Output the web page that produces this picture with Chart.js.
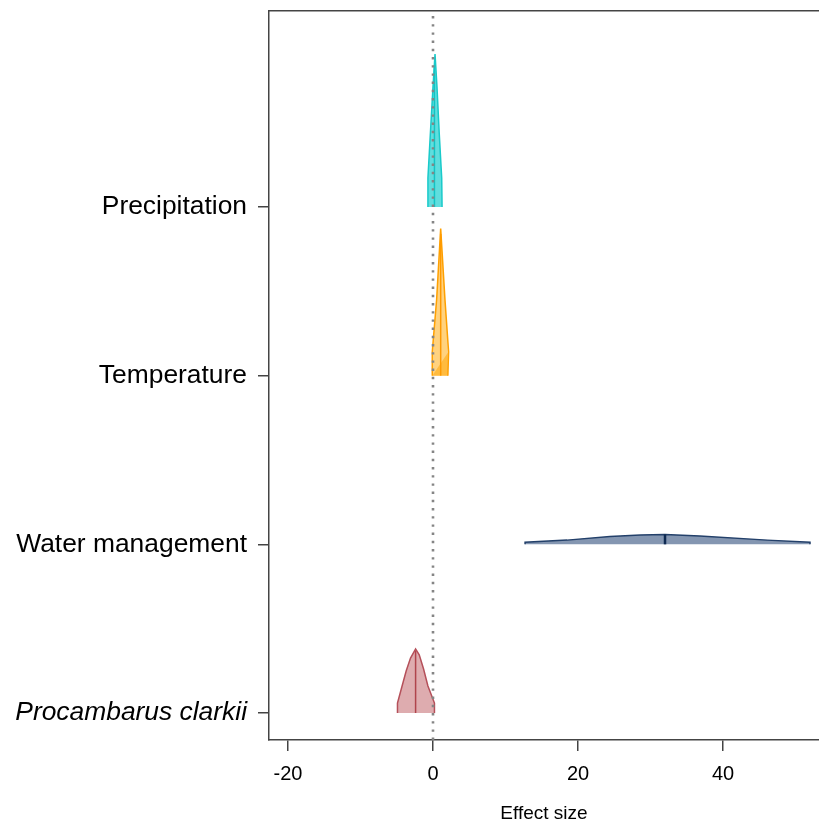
<!DOCTYPE html>
<html>
<head>
<meta charset="utf-8">
<script src="https://cdn.jsdelivr.net/npm/chart.js@4.4.1/dist/chart.umd.min.js"></script>
<style>
  html, body { margin: 0; padding: 0; background: #fff; overflow: hidden; }
  #wrap { width: 819px; height: 820px; }
</style>
</head>
<body>
<div id="wrap"><canvas id="c" width="819" height="820"></canvas></div>
<script>
// ---- data ----
const categories = ["Procambarus clarkii", "Water management", "Temperature", "Precipitation"];
const categoryPos = [1, 2, 3, 4];
const xTicks = [-20, 0, 20, 40];

// ridge outlines: effect size (x) and scaled density height (in row units)
const clarkiiX       = [-4.9, -4.9, -4.3, -3.7, -3.1, -2.4, -1.9, -1.3, -0.7, 0.2, 0.2];
const clarkiiDensity = [0, 0.059, 0.154, 0.249, 0.326, 0.380, 0.345, 0.261, 0.160, 0.059, 0];
const clarkiiMedian  = -2.4, clarkiiMedianDensity = 0.37;

const waterX       = [12.7, 12.7, 18.5, 24.4, 28.6, 32.0, 36.8, 46.1, 52.0, 52.0];
const waterDensity = [0, 0.012, 0.025, 0.047, 0.055, 0.059, 0.049, 0.025, 0.012, 0];
const waterMedian  = 32.0, waterMedianDensity = 0.059;

const tempX       = [-0.1, -0.1, 0.5, 1.06, 1.65, 2.15, 2.05];
const tempDensity = [0, 0.142, 0.451, 0.872, 0.451, 0.142, 0];
const tempMedian  = 1.06, tempMedianDensity = 0.84;

const precipX       = [-0.7, -0.7, -0.35, 0.0, 0.28, 0.55, 0.85, 1.2, 1.25];
const precipDensity = [0, 0.172, 0.445, 0.711, 0.907, 0.711, 0.445, 0.172, 0];
const precipMedian  = 0.2, precipMedianDensity = 0.84;

// ---- styling ----
const FONT = "'Liberation Sans', Arial, sans-serif";
const AXIS = '#444444';

function ridge(xs, ds, base, line, fill) {
  return {
    type: 'line',
    data: xs.map((x, i) => ({ x: x, y: base + ds[i] })),
    borderColor: line, backgroundColor: fill, borderWidth: 1.5,
    fill: { value: base }, pointRadius: 0, tension: 0
  };
}
function median(x, d, base, color, w) {
  return {
    type: 'line',
    data: [{ x: x, y: base }, { x: x, y: base + d }],
    borderColor: color, borderWidth: w, pointRadius: 0, fill: false
  };
}

const X_MIN = -22.62, X_MAX = 53.24, Y_MIN = 0.84, Y_MAX = 5.162;

const datasets = [
  { type: 'line', data: [{ x: 0, y: Y_MIN }, { x: 0, y: Y_MAX }],
    borderColor: '#858585', borderWidth: 2.6, borderDash: [2.4, 5.8], pointRadius: 0, fill: false },
  median(precipMedian, precipMedianDensity, categoryPos[3], '#12C4C4', 1.5),
  ridge(precipX, precipDensity, categoryPos[3], '#19CACA', 'rgba(10,205,205,0.65)'),
  median(tempMedian, tempMedianDensity, categoryPos[2], '#FF9A00', 1.5),
  ridge(tempX, tempDensity, categoryPos[2], '#FFA000', 'rgba(255,165,0,0.5)'),
  median(waterMedian, waterMedianDensity, categoryPos[1], '#0E2A52', 2.5),
  ridge(waterX, waterDensity, categoryPos[1], '#23406A', 'rgba(50,80,125,0.6)'),
  median(clarkiiMedian, clarkiiMedianDensity, categoryPos[0], '#B0444C', 1.5),
  ridge(clarkiiX, clarkiiDensity, categoryPos[0], '#B5505A', 'rgba(190,90,95,0.5)')
];

new Chart(document.getElementById('c'), {
  type: 'line',
  data: { datasets: datasets },
  options: {
    responsive: false,
    animation: false,
    devicePixelRatio: 1,
    layout: { padding: { top: 11, right: 0, bottom: 0, left: 0 } },
    plugins: { legend: { display: false }, tooltip: { enabled: false } },
    scales: {
      x: {
        type: 'linear', position: 'bottom', min: X_MIN, max: X_MAX,
        afterBuildTicks: (s) => { s.ticks = xTicks.map(v => ({ value: v })); },
        afterFit: (s) => { s.height = 80; s.paddingLeft = 0; s.paddingRight = 0; },
        grid: { drawOnChartArea: false, drawTicks: true, tickLength: 11, color: AXIS, lineWidth: 1.5 },
        border: { display: true, color: AXIS, width: 1.5 },
        ticks: { color: '#000', padding: 11, font: { family: FONT, size: 20 } },
        title: { display: true, text: 'Effect size', color: '#000', padding: { top: 0, bottom: -5 },
                 font: { family: FONT, size: 19 } }
      },
      x2: {
        type: 'linear', position: 'top', min: X_MIN, max: X_MAX,
        afterFit: (s) => { s.height = 0; s.paddingLeft = 0; s.paddingRight = 0; },
        grid: { display: false },
        border: { display: true, color: AXIS, width: 1.5 },
        ticks: { display: false }
      },
      y: {
        type: 'linear', position: 'left', min: Y_MIN, max: Y_MAX,
        afterBuildTicks: (s) => { s.ticks = categoryPos.map(v => ({ value: v })); },
        afterFit: (s) => { s.width = 269; s.paddingTop = 0; s.paddingBottom = 0; },
        grid: { drawOnChartArea: false, drawTicks: true, tickLength: 11, color: AXIS, lineWidth: 1.5 },
        border: { display: true, color: AXIS, width: 1.5 },
        ticks: {
          color: '#000', padding: 11,
          callback: (v) => { const i = categoryPos.indexOf(v); return i >= 0 ? categories[i] : ''; },
          font: (ctx) => ({ family: FONT, size: 26.4,
                            style: (ctx.tick && ctx.tick.value === categoryPos[0]) ? 'italic' : 'normal' })
        }
      }
    }
  }
});
</script>
</body>
</html>
